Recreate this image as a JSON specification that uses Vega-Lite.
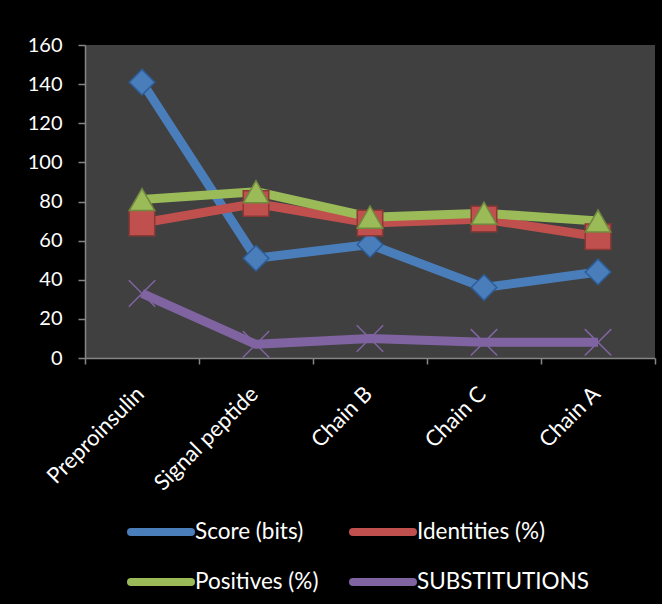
{
  "$schema": "https://vega.github.io/schema/vega-lite/v6.json",
  "width": 570,
  "height": 313,
  "autosize": {"type": "none"},
  "padding": {"left": 85, "top": 45, "right": 7, "bottom": 246},
  "background": "black",
  "config": {"view": {"fill": "#404040", "stroke": null}, "font": "Lato"},
  "data": {"values": [
    {"cat": "Preproinsulin", "series": "Score (bits)", "value": 141},
    {"cat": "Signal peptide", "series": "Score (bits)", "value": 51},
    {"cat": "Chain B", "series": "Score (bits)", "value": 58},
    {"cat": "Chain C", "series": "Score (bits)", "value": 36},
    {"cat": "Chain A", "series": "Score (bits)", "value": 44},
    {"cat": "Preproinsulin", "series": "Identities (%)", "value": 69},
    {"cat": "Signal peptide", "series": "Identities (%)", "value": 79},
    {"cat": "Chain B", "series": "Identities (%)", "value": 69},
    {"cat": "Chain C", "series": "Identities (%)", "value": 71},
    {"cat": "Chain A", "series": "Identities (%)", "value": 62},
    {"cat": "Preproinsulin", "series": "Positives (%)", "value": 81},
    {"cat": "Signal peptide", "series": "Positives (%)", "value": 85},
    {"cat": "Chain B", "series": "Positives (%)", "value": 72},
    {"cat": "Chain C", "series": "Positives (%)", "value": 74},
    {"cat": "Chain A", "series": "Positives (%)", "value": 70},
    {"cat": "Preproinsulin", "series": "SUBSTITUTIONS", "value": 33},
    {"cat": "Signal peptide", "series": "SUBSTITUTIONS", "value": 7},
    {"cat": "Chain B", "series": "SUBSTITUTIONS", "value": 10},
    {"cat": "Chain C", "series": "SUBSTITUTIONS", "value": 8},
    {"cat": "Chain A", "series": "SUBSTITUTIONS", "value": 8}
  ]},
  "encoding": {
    "x": {
      "field": "cat", "type": "nominal",
      "sort": ["Preproinsulin", "Signal peptide", "Chain B", "Chain C", "Chain A"],
      "scale": {"type": "band", "paddingInner": 0, "paddingOuter": 0},
      "axis": {
        "title": null, "tickBand": "extent", "domainColor": "#868686", "domainWidth": 1.5,
        "tickColor": "#868686", "tickWidth": 1.5, "tickSize": 6,
        "labelAngle": -45, "labelAlign": "right", "labelBaseline": "top",
        "labelOffset": -9, "labelPadding": 19, "labelColor": "white",
        "labelFont": "Lato", "labelFontSize": 22, "labelLimit": 300, "grid": false
      }
    },
    "y": {
      "field": "value", "type": "quantitative",
      "scale": {"domain": [0, 160], "nice": false},
      "axis": {
        "title": null, "values": [0, 20, 40, 60, 80, 100, 120, 140, 160],
        "domainColor": "#868686", "domainWidth": 1.5, "tickColor": "#868686",
        "tickWidth": 1.5, "tickSize": 7, "labelPadding": 16, "labelColor": "white",
        "labelFont": "Lato", "labelFontSize": 20, "grid": false
      }
    },
    "color": {
      "field": "series", "type": "nominal",
      "scale": {
        "domain": ["Score (bits)", "Identities (%)", "Positives (%)", "SUBSTITUTIONS"],
        "range": ["#4a7ebb", "#c0504d", "#9bbb59", "#8064a2"]
      },
      "legend": {
        "orient": "none", "legendX": 42, "legendY": 453, "direction": "horizontal",
        "columns": 2, "title": null, "symbolType": "M-1,0H1", "symbolSize": 3600,
        "symbolStrokeWidth": 8,
        "labelFont": "Lato", "labelFontSize": 22.5,
        "labelColor": "white", "labelOffset": 0, "columnPadding": 18,
        "rowPadding": -25, "padding": 0, "labelLimit": 300,
        "encode": {
          "symbols": {
            "update": {
              "size": {"value": 3600},
              "fill": {"value": "transparent"},
              "stroke": {"scale": "color", "field": "value"},
              "strokeWidth": {"value": 8},
              "strokeCap": {"value": "round"},
              "opacity": {"value": 1}
            }
          }
        }
      }
    }
  },
  "layer": [
    {"mark": {"type": "line", "strokeWidth": 9, "strokeJoin": "round"}},
    {
      "transform": [{"filter": "datum.series === 'Score (bits)'"}],
      "mark": {"type": "point", "filled": true, "opacity": 1, "shape": "diamond", "size": 650, "stroke": "#2c5d98", "strokeWidth": 1.5}
    },
    {
      "transform": [{"filter": "datum.series === 'Identities (%)'"}],
      "mark": {"type": "point", "filled": true, "opacity": 1, "shape": "square", "size": 650, "stroke": "#8c3836", "strokeWidth": 1.5}
    },
    {
      "transform": [{"filter": "datum.series === 'Positives (%)'"}],
      "mark": {"type": "point", "filled": true, "opacity": 1, "shape": "triangle-up", "size": 650, "stroke": "#71893f", "strokeWidth": 1.5}
    },
    {
      "transform": [{"filter": "datum.series === 'SUBSTITUTIONS'"}],
      "mark": {"type": "point", "filled": false, "opacity": 1, "shape": "M-1,-1L1,1M-1,1L1,-1", "size": 700, "strokeWidth": 1.5}
    }
  ]
}
